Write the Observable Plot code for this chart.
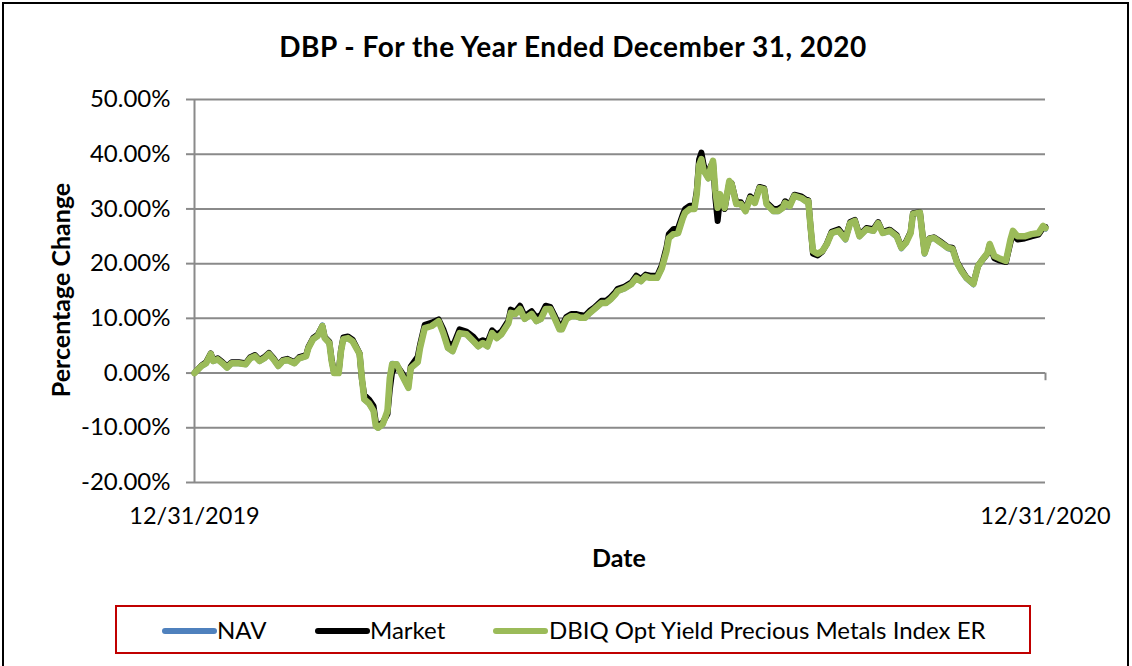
<!DOCTYPE html>
<html><head><meta charset="utf-8">
<script src="https://cdn.jsdelivr.net/npm/d3@7"></script>
<script src="https://cdn.jsdelivr.net/npm/@observablehq/plot@0.6"></script>
<style>
body{margin:0;background:#fff;}
#wrap{position:relative;width:1132px;height:666px;overflow:hidden;font-family:Lato,"Open Sans",sans-serif;color:#000;}
#frame{position:absolute;left:2px;top:2px;width:1127px;height:720px;border:2.5px solid #000;box-sizing:border-box;}
#title{position:absolute;left:0;width:1146px;top:46px;transform:translateY(-50%);text-align:center;font-weight:bold;font-size:28px;letter-spacing:0.5px;white-space:nowrap;}
#chart{position:absolute;left:0;top:0;}
.axt{position:absolute;font-weight:bold;font-size:25px;white-space:nowrap;}
#ylab{left:60px;top:290px;transform:translate(-50%,-50%) rotate(-90deg);}
#xlab{left:619px;top:557px;transform:translate(-50%,-50%);}
#legend{position:absolute;left:115px;top:605px;width:916px;height:49px;border:2px solid #c00000;box-sizing:border-box;}
.sw{position:absolute;height:6px;border-radius:3px;top:21px;}
.lt{position:absolute;top:22px;transform:translateY(-50%);font-size:24px;white-space:nowrap;}
</style></head>
<body><div id="wrap">
<div id="frame"></div>
<div id="title">DBP - For the Year Ended December 31, 2020</div>
<div id="chart"></div>
<div class="axt" id="ylab">Percentage Change</div>
<div class="axt" id="xlab">Date</div>
<div id="legend"></div>
</div>
<script>
const dates = [
"2019-12-31","2020-01-03","2020-01-05","2020-01-07","2020-01-08","2020-01-10","2020-01-12","2020-01-14","2020-01-16","2020-01-19","2020-01-22","2020-01-24","2020-01-26","2020-01-28","2020-01-30",
"2020-02-01","2020-02-03","2020-02-05","2020-02-07","2020-02-09","2020-02-12","2020-02-14","2020-02-17","2020-02-18","2020-02-20","2020-02-22","2020-02-24","2020-02-25","2020-02-27","2020-02-28","2020-02-29",
"2020-03-02","2020-03-03","2020-03-04","2020-03-06","2020-03-08","2020-03-11","2020-03-12","2020-03-13","2020-03-15","2020-03-17","2020-03-18","2020-03-19","2020-03-21","2020-03-23","2020-03-24","2020-03-25","2020-03-27","2020-03-29",
"2020-04-01","2020-04-02","2020-04-05","2020-04-06","2020-04-08","2020-04-11","2020-04-14","2020-04-16","2020-04-18","2020-04-20","2020-04-23","2020-04-26","2020-04-29",
"2020-05-01","2020-05-03","2020-05-05","2020-05-07","2020-05-09","2020-05-11","2020-05-14","2020-05-15","2020-05-17","2020-05-19","2020-05-21","2020-05-24","2020-05-26","2020-05-28","2020-05-30",
"2020-06-01","2020-06-03","2020-06-05","2020-06-06","2020-06-08","2020-06-10","2020-06-12","2020-06-14","2020-06-16","2020-06-18","2020-06-20","2020-06-23","2020-06-25","2020-06-27","2020-06-29","2020-06-30",
"2020-07-03","2020-07-06","2020-07-08","2020-07-10","2020-07-12","2020-07-14","2020-07-17","2020-07-19","2020-07-21","2020-07-22","2020-07-24","2020-07-26","2020-07-28","2020-07-29","2020-07-31",
"2020-08-02","2020-08-03","2020-08-04","2020-08-05","2020-08-06","2020-08-08","2020-08-09","2020-08-10","2020-08-11","2020-08-12","2020-08-13","2020-08-15","2020-08-17","2020-08-18","2020-08-20","2020-08-22","2020-08-24","2020-08-26","2020-08-28","2020-08-30",
"2020-09-01","2020-09-02","2020-09-05","2020-09-07","2020-09-09","2020-09-10","2020-09-12","2020-09-14","2020-09-17","2020-09-19","2020-09-20","2020-09-21","2020-09-22","2020-09-24","2020-09-26","2020-09-28","2020-09-30",
"2020-10-03","2020-10-06","2020-10-08","2020-10-10","2020-10-12","2020-10-15","2020-10-18","2020-10-20","2020-10-22","2020-10-25","2020-10-28","2020-10-30",
"2020-11-01","2020-11-03","2020-11-04","2020-11-07","2020-11-09","2020-11-11","2020-11-13","2020-11-16","2020-11-19","2020-11-21","2020-11-23","2020-11-25","2020-11-27","2020-11-30",
"2020-12-02","2020-12-04","2020-12-06","2020-12-07","2020-12-09","2020-12-11","2020-12-14","2020-12-16","2020-12-17","2020-12-19","2020-12-22","2020-12-25","2020-12-28","2020-12-30","2020-12-31"
];
const indexER = [
0.0,1.3,1.8,3.5,2.2,2.5,1.8,1.0,1.8,1.8,1.6,2.7,3.1,2.2,2.7,
3.5,2.5,1.3,2.2,2.4,1.8,2.7,3.1,4.6,6.2,6.8,8.6,6.4,5.5,2.2,0.0,
0.0,4.0,6.2,6.4,5.8,3.5,-0.9,-4.8,-5.5,-6.9,-9.7,-10.0,-9.3,-6.9,-0.9,1.6,1.6,-0.2,
-2.7,0.9,2.0,4.6,8.2,8.6,9.5,7.3,4.6,4.0,7.3,7.1,5.8,
4.9,5.5,4.9,7.3,6.4,7.1,9.1,11.0,10.8,11.7,9.9,10.8,9.5,9.9,11.7,
11.7,9.9,8.0,8.0,9.9,10.4,10.4,10.1,10.1,11.0,11.7,12.8,12.8,13.5,14.4,15.0,
15.5,16.3,17.4,16.8,17.7,17.4,17.4,19.2,22.3,24.7,25.4,25.6,28.3,29.3,30.0,
30.0,32.7,38.0,39.1,37.0,35.6,37.5,38.8,33.3,30.2,32.7,30.2,35.1,34.6,30.9,30.9,29.6,32.0,31.1,33.8,
33.6,30.9,29.6,29.6,30.2,31.1,30.5,32.4,32.0,31.4,31.4,26.5,22.3,21.8,22.3,23.6,25.6,
26.0,24.5,27.4,27.8,25.0,26.3,26.0,27.4,25.6,26.0,25.0,22.9,
23.8,25.6,29.1,29.3,21.9,24.5,24.7,23.8,22.9,22.7,20.1,18.6,17.4,16.3,
19.6,20.8,21.9,23.6,21.4,21.0,20.5,24.5,26.0,25.0,25.0,25.4,25.6,26.9,26.5
];
const market = [
0.0,1.4,2.0,3.6,2.4,2.7,2.0,1.2,2.0,2.0,1.8,2.9,3.3,2.4,2.9,
3.7,2.7,1.5,2.4,2.6,2.0,2.9,3.3,4.8,6.4,7.0,8.6,6.6,5.7,2.4,0.2,
0.2,4.2,6.5,6.7,6.1,3.6,-1.2,-4.0,-4.8,-6.0,-9.0,-9.6,-9.0,-7.5,-3.0,0.2,1.4,0.2,
-2.0,1.2,3.0,5.2,8.8,9.2,9.8,8.0,5.6,4.8,8.0,7.6,6.6,
5.6,6.0,5.6,7.8,7.0,7.6,9.6,11.6,11.2,12.3,10.4,11.3,10.2,10.6,12.3,
12.1,10.4,8.6,8.6,10.3,10.8,10.8,10.6,10.5,11.4,12.0,13.2,13.2,13.9,14.8,15.4,
15.8,16.6,17.8,17.2,18.0,17.8,17.8,19.7,23.0,25.4,26.3,26.5,29.0,30.0,30.6,
30.6,33.3,39.0,40.3,38.0,35.8,37.8,38.6,32.0,27.8,31.8,30.0,34.8,34.7,31.2,31.2,29.9,32.3,31.4,34.0,
33.8,31.2,30.0,30.0,30.5,31.4,30.8,32.6,32.3,31.7,31.6,26.5,21.8,21.5,22.2,23.7,25.8,
26.3,24.7,27.6,28.0,25.2,26.5,26.3,27.6,25.8,26.2,25.2,23.0,
24.0,25.8,29.2,29.4,22.0,24.6,24.8,24.0,23.0,22.9,20.3,18.8,17.5,16.4,
19.6,20.8,21.8,23.4,21.0,20.6,20.3,24.0,25.4,24.4,24.6,25.0,25.3,26.6,26.7
];
const nav = [
0.0,1.2,1.7,3.4,2.1,2.4,1.7,0.9,1.7,1.7,1.5,2.6,3.0,2.1,2.6,
3.4,2.4,1.2,2.1,2.3,1.7,2.6,3.0,4.5,6.1,6.7,8.8,6.3,5.4,2.1,-0.1,
-0.1,3.9,6.1,6.3,5.7,3.4,-1.0,-4.9,-5.6,-7.0,-9.8,-10.1,-9.4,-7.0,-0.8,1.8,1.7,-0.3,
-2.8,0.8,1.9,4.5,8.1,8.7,9.7,7.2,4.5,3.9,7.2,7.0,5.7,
4.8,5.4,4.8,7.2,6.3,7.0,9.0,10.9,10.7,11.6,9.8,10.7,9.4,9.8,11.6,
11.6,9.8,7.9,7.9,9.8,10.3,10.3,10.0,10.0,10.9,11.6,12.7,12.7,13.4,14.3,14.9,
15.4,16.2,17.3,16.7,17.6,17.3,17.3,19.1,22.2,24.6,25.3,25.5,28.2,29.2,29.9,
29.9,32.6,37.9,39.0,36.9,35.5,37.4,38.7,33.2,30.1,32.6,30.1,35.0,34.5,30.8,30.8,29.5,31.9,31.0,33.7,
33.5,30.8,29.5,29.5,30.1,31.0,30.4,32.3,31.9,31.3,31.3,26.4,22.2,21.6,22.2,23.5,25.5,
25.9,24.3,27.3,27.7,24.9,26.2,25.9,27.3,25.5,25.9,24.8,22.7,
23.7,25.5,29.0,29.2,21.7,24.4,24.6,23.7,22.7,22.5,19.9,18.4,17.2,16.1,
19.4,20.6,21.7,23.4,21.2,20.8,20.3,24.3,25.8,24.8,24.8,25.2,25.4,26.7,26.3
];
const yTicks = [-20,-10,0,10,20,30,40,50];
const xTickLabels = ["12/31/2019","12/31/2020"];
const seriesNames = ["NAV","Market","DBIQ Opt Yield Precious Metals Index ER"];
const seriesColors = ["#4f81bd","#000000","#9bbb59"];

const parse = d3.utcParse("%Y-%m-%d");
const data = dates.map((d,i)=>({date:parse(d), nav:nav[i], market:market[i], index:indexER[i]}));
const xDomain = [parse("2019-12-31"), parse("2020-12-31")];
const grid = "#8a8a8a";

const chart = Plot.plot({
  width:1132, height:580,
  marginLeft:194, marginRight:87, marginTop:99, marginBottom:98,
  style:{fontFamily:"Lato, 'Open Sans', sans-serif", color:"#000", background:"transparent"},
  x:{type:"utc", domain:xDomain},
  y:{domain:[-20,50]},
  marks:[
    Plot.gridY(yTicks,{stroke:grid, strokeOpacity:1, strokeWidth:2}),
    Plot.axisY(yTicks,{tickSize:8, tickPadding:16, stroke:grid, strokeWidth:2, fontSize:24, tickFormat:d=>d.toFixed(2)+"%", label:null}),
    Plot.ruleX([xDomain[0]],{stroke:grid, strokeWidth:2}),
    Plot.ruleX([xDomain[1]],{y1:0, y2:-1.4, stroke:grid, strokeWidth:2}),
    Plot.axisX(xDomain,{tickSize:0, tickPadding:25, fontSize:23.5, tickFormat:(d,i)=>xTickLabels[i], label:null}),
    Plot.line(data,{x:"date", y:"nav", stroke:seriesColors[0], strokeWidth:5, strokeLinejoin:"round"}),
    Plot.line(data,{x:"date", y:"market", stroke:seriesColors[1], strokeWidth:6, strokeLinejoin:"round"}),
    Plot.line(data,{x:"date", y:"index", stroke:seriesColors[2], strokeWidth:6.5, strokeLinejoin:"round"})
  ]
});
document.getElementById("chart").appendChild(chart);

const leg = document.getElementById("legend");
const swX = [45, 198, 376];
const txX = [100, 253, 432];
seriesNames.forEach((n,i)=>{
  const s = document.createElement("div");
  s.className="sw"; s.style.left=swX[i]+"px"; s.style.width="55px"; s.style.background=seriesColors[i];
  leg.appendChild(s);
  const t = document.createElement("div");
  t.className="lt"; t.style.left=txX[i]+"px"; t.textContent=n;
  leg.appendChild(t);
});
</script>
</body></html>
